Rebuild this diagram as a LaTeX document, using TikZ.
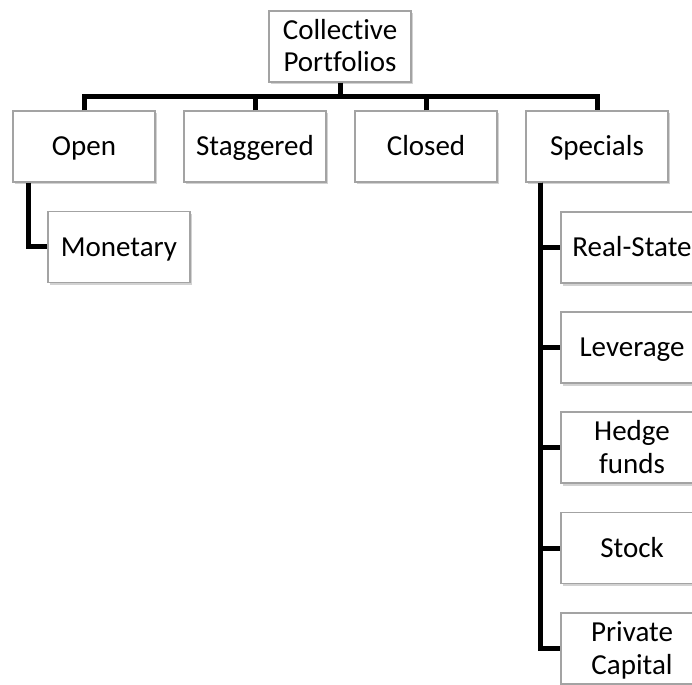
\documentclass[tikz,border=0pt]{standalone}
\usepackage{fontspec}
\setmainfont[Ligatures=NoCommon]{Carlito}
\usetikzlibrary{shadows}
\definecolor{boxline}{HTML}{A3A3A3}
\tikzset{
  box/.style={draw=boxline, line width=1.2pt, fill=white, minimum width=142pt, minimum height=71pt,
    inner sep=0pt, align=center, font=\fontsize{29}{32.4}\selectfont,
    text height=18.6pt, text depth=0pt,
    drop shadow={shadow xshift=1.5pt, shadow yshift=-2.5pt, opacity=0.35, fill=gray}},
  twoline/.style={text height=51pt, text depth=0pt},
  conn/.style={line width=5pt, black, line join=miter}
}
\begin{document}
\begin{tikzpicture}[x=1pt,y=-1pt]
\clip (0,0) rectangle (692,684);
\fill[white] (0,0) rectangle (692,684);
\node[box,twoline] (coll) at (340,46.5) {Collective\\Portfolios};
\node[box] (open) at (84,146.5) {Open};
\node[box] (stag) at (255,146.5) {Staggered};
\node[box] (closed) at (426,146.5) {Closed};
\node[box] (spec) at (597,146.5) {Specials};
\node[box] (mon) at (119,247) {Monetary};
\node[box] (real) at (632,247.5) {Real-State};
\node[box] (lev) at (632,347.5) {Leverage};
\node[box,twoline] (hedge) at (632,447.5) {Hedge\\funds};
\node[box] (stock) at (632,548) {Stock};
\node[box,twoline] (priv) at (632,648.5) {Private\\Capital};
\coordinate (busL) at (84,97);
\draw[conn] (coll.south) -- (coll.south |- busL);
\draw[conn] (open.north) |- (busL) -- (busL -| spec.north) -- (spec.north);
\draw[conn] (stag.north) -- (stag.north |- busL);
\draw[conn] (closed.north) -- (closed.north |- busL);
\draw[conn] ([xshift=-56pt]open.south) |- (mon.west);
\draw[conn] ([xshift=-57pt]spec.south) |- (real.west);
\draw[conn] ([xshift=-57pt]spec.south) |- (lev.west);
\draw[conn] ([xshift=-57pt]spec.south) |- (hedge.west);
\draw[conn] ([xshift=-57pt]spec.south) |- (stock.west);
\draw[conn] ([xshift=-57pt]spec.south) |- (priv.west);
\end{tikzpicture}
\end{document}
